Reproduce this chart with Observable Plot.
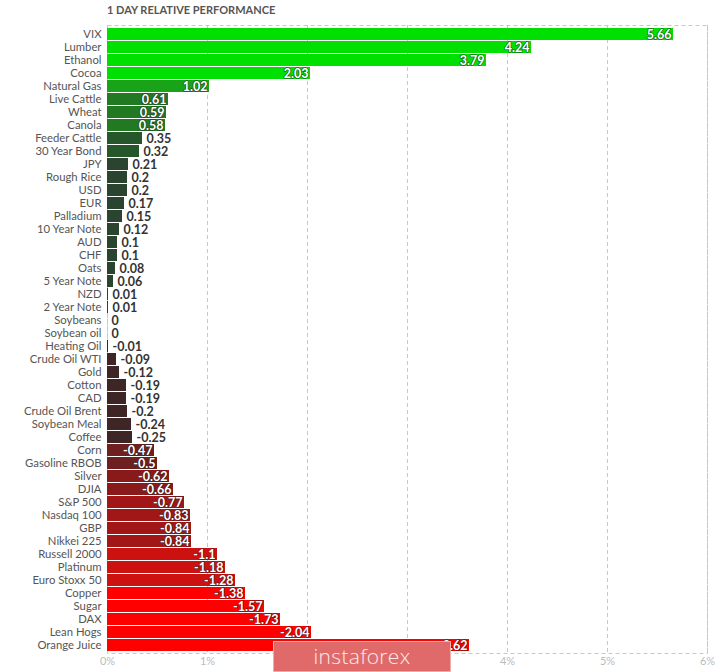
<!DOCTYPE html>
<html>
<head>
<meta charset="utf-8">
<script src="https://cdn.jsdelivr.net/npm/d3@7"></script>
<script src="https://cdn.jsdelivr.net/npm/@observablehq/plot@0.6"></script>
<style>
  html, body { margin: 0; padding: 0; background: #fff; }
  body { width: 724px; height: 672px; position: relative; overflow: hidden; font-family: Lato, "Open Sans", sans-serif; }
  #title { position: absolute; left: 107px; top: 3px; font: bold 11px Lato, sans-serif; color: #555; }
  #chart { position: absolute; left: 0; top: 20px; }
  #wm { position: absolute; left: 273px; top: 641px; width: 176px; height: 29px; background: #e06a6a; border: 1px solid #f0b0b0; color: #f8eaea; font: 300 21px "Open Sans", Lato, sans-serif; text-align: center; line-height: 28px; letter-spacing: 0.3px; }
</style>
</head>
<body>
<div id="title">1 DAY RELATIVE PERFORMANCE</div>
<div id="chart"></div>
<div id="wm">instaforex</div>
<script>
const categories = ["VIX","Lumber","Ethanol","Cocoa","Natural Gas","Live Cattle","Wheat","Canola","Feeder Cattle","30 Year Bond","JPY","Rough Rice","USD","EUR","Palladium","10 Year Note","AUD","CHF","Oats","5 Year Note","NZD","2 Year Note","Soybeans","Soybean oil","Heating Oil","Crude Oil WTI","Gold","Cotton","CAD","Crude Oil Brent","Soybean Meal","Coffee","Corn","Gasoline RBOB","Silver","DJIA","S&P 500","Nasdaq 100","GBP","Nikkei 225","Russell 2000","Platinum","Euro Stoxx 50","Copper","Sugar","DAX","Lean Hogs","Orange Juice"];
const values = [5.66,4.24,3.79,2.03,1.02,0.61,0.59,0.58,0.35,0.32,0.21,0.2,0.2,0.17,0.15,0.12,0.1,0.1,0.08,0.06,0.01,0.01,0,0,-0.01,-0.09,-0.12,-0.19,-0.19,-0.2,-0.24,-0.25,-0.47,-0.5,-0.62,-0.66,-0.77,-0.83,-0.84,-0.84,-1.1,-1.18,-1.28,-1.38,-1.57,-1.73,-2.04,-3.62];
const xTicks = [0,1,2,3,4,5,6];

const data = categories.map((name, i) => ({name, value: values[i], mag: Math.abs(values[i])}));
const inside = data.filter(d => d.mag >= 0.45);
const outside = data.filter(d => d.mag < 0.45);

const chart = Plot.plot({
  width: 724,
  height: 652,
  marginTop: 5,
  marginBottom: 19,
  marginLeft: 107,
  marginRight: 17,
  style: {fontFamily: "Lato, sans-serif", background: "transparent"},
  x: {domain: [0, 6], ticks: xTicks, tickFormat: d => d + "%", tickSize: 0, label: null, tickPadding: 4},
  y: {domain: categories, label: null, tickSize: 0, tickPadding: 6, padding: 0.08},
  color: {
    type: "threshold",
    domain: [-1.35, -1.0, -0.7, -0.55, -0.3, 0, 0.3, 0.45, 0.8, 1.5],
    range: ["#ff0000","#cc1111","#a11616","#8a1a1a","#6e1f1f","#3f2626","#2a4430","#25572b","#217a21","#19a319","#00e000"]
  },
  marks: [
    Plot.ruleX(xTicks, {stroke: "#c8c8c8", strokeDasharray: "4,3"}),
    Plot.frame({stroke: "#c8c8c8", strokeDasharray: "4,3"}),
    Plot.barX(data, {x: "mag", y: "name", fill: "value"}),
    Plot.text(inside, {x: "mag", y: "name", text: d => String(d.value), textAnchor: "end", dx: -2, fill: "white", stroke: "#222", strokeWidth: 1.6, strokeOpacity: 0.6, fontSize: 12.5, fontWeight: "bold"}),
    Plot.text(outside, {x: "mag", y: "name", text: d => String(d.value), textAnchor: "start", dx: 4, fill: "#333", fontSize: 12.5, fontWeight: "bold"}),
    Plot.axisY({tickSize: 0, tickPadding: 6, fontSize: 11.3, color: "#555"}),
    Plot.axisX({ticks: xTicks, tickFormat: d => d + "%", tickSize: 0, tickPadding: 4, fontSize: 11, color: "#bbb"})
  ]
});
document.getElementById("chart").appendChild(chart);
</script>
</body>
</html>
